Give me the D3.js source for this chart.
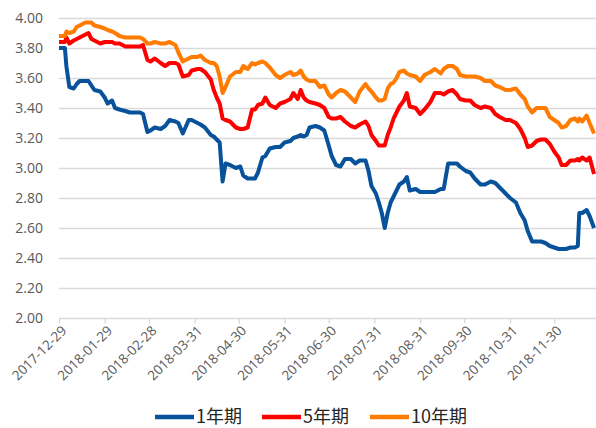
<!DOCTYPE html>
<html>
<head>
<meta charset="utf-8">
<script src="https://cdn.jsdelivr.net/npm/d3@7"></script>
<style>
  body { margin: 0; background: #fff; }
  svg { display: block; }
</style>
</head>
<body>
<script>
// dates (trading samples)
var dates = [
  "2017-12-29","2018-01-02","2018-01-03","2018-01-05","2018-01-08","2018-01-10","2018-01-12","2018-01-16","2018-01-18","2018-01-20",
  "2018-01-22","2018-01-26","2018-01-29","2018-01-31","2018-02-03","2018-02-05","2018-02-08","2018-02-12","2018-02-15","2018-02-19",
  "2018-02-22","2018-02-24","2018-02-27","2018-03-01","2018-03-04","2018-03-08","2018-03-11","2018-03-14","2018-03-18","2018-03-20",
  "2018-03-23","2018-03-27","2018-03-29","2018-04-02","2018-04-04","2018-04-07","2018-04-11","2018-04-13","2018-04-15","2018-04-17",
  "2018-04-19","2018-04-21","2018-04-24","2018-04-28","2018-05-01","2018-05-03","2018-05-06","2018-05-09","2018-05-11","2018-05-13",
  "2018-05-16","2018-05-18","2018-05-21","2018-05-25","2018-05-28","2018-05-31","2018-06-04","2018-06-06","2018-06-09","2018-06-11",
  "2018-06-13","2018-06-15","2018-06-17","2018-06-21","2018-06-24","2018-06-27","2018-06-30","2018-07-02","2018-07-05","2018-07-08",
  "2018-07-11","2018-07-15","2018-07-18","2018-07-21","2018-07-25","2018-07-27","2018-07-29","2018-08-01","2018-08-03","2018-08-05",
  "2018-08-07","2018-08-09","2018-08-11","2018-08-13","2018-08-15","2018-08-17","2018-08-20","2018-08-22","2018-08-24","2018-08-28",
  "2018-08-31","2018-09-03","2018-09-07","2018-09-10","2018-09-14","2018-09-16","2018-09-19","2018-09-22","2018-09-25","2018-09-27",
  "2018-10-01","2018-10-04","2018-10-07","2018-10-11","2018-10-14","2018-10-18","2018-10-21","2018-10-24","2018-10-28","2018-10-31",
  "2018-11-04","2018-11-07","2018-11-10","2018-11-12","2018-11-15","2018-11-18","2018-11-21","2018-11-24","2018-11-27","2018-11-30",
  "2018-12-03","2018-12-05","2018-12-08","2018-12-11","2018-12-14","2018-12-16","2018-12-17","2018-12-19","2018-12-22","2018-12-24",
  "2018-12-27","2018-12-28"
];

var y1 = [
  3.80,3.80,3.68,3.54,3.53,3.56,3.58,3.58,3.58,3.55,
  3.52,3.51,3.47,3.43,3.45,3.40,3.39,3.38,3.37,3.37,
  3.37,3.36,3.24,3.25,3.27,3.26,3.28,3.32,3.31,3.30,
  3.23,3.32,3.32,3.30,3.29,3.27,3.22,3.21,3.19,3.17,
  2.91,3.03,3.02,3.00,3.01,2.95,2.93,2.93,2.93,2.97,
  3.07,3.08,3.13,3.14,3.14,3.17,3.18,3.20,3.21,3.22,
  3.21,3.22,3.27,3.28,3.27,3.25,3.15,3.08,3.02,3.01,
  3.06,3.06,3.03,3.05,3.05,2.98,2.88,2.83,2.77,2.70,
  2.60,2.70,2.77,2.81,2.85,2.89,2.91,2.94,2.85,2.86,
  2.84,2.84,2.84,2.84,2.86,2.86,3.03,3.03,3.03,3.01,
  2.98,2.97,2.93,2.89,2.89,2.91,2.90,2.87,2.83,2.80,
  2.77,2.70,2.65,2.58,2.51,2.51,2.51,2.50,2.48,2.47,
  2.46,2.46,2.46,2.47,2.47,2.48,2.70,2.70,2.72,2.68,
  2.60
];

var y5 = [
  3.84,3.84,3.87,3.83,3.85,3.86,3.87,3.89,3.90,3.86,
  3.85,3.83,3.84,3.84,3.84,3.83,3.83,3.81,3.81,3.81,
  3.81,3.82,3.72,3.71,3.73,3.70,3.68,3.70,3.70,3.69,
  3.61,3.62,3.65,3.66,3.66,3.64,3.59,3.52,3.47,3.43,
  3.33,3.32,3.31,3.27,3.26,3.26,3.27,3.39,3.39,3.42,
  3.43,3.47,3.42,3.40,3.43,3.44,3.46,3.50,3.46,3.52,
  3.47,3.45,3.44,3.43,3.42,3.40,3.34,3.33,3.33,3.34,
  3.31,3.28,3.27,3.29,3.31,3.28,3.22,3.18,3.15,3.15,
  3.15,3.22,3.27,3.33,3.37,3.41,3.45,3.50,3.41,3.40,
  3.36,3.39,3.44,3.50,3.50,3.49,3.51,3.52,3.49,3.46,
  3.45,3.45,3.42,3.40,3.41,3.40,3.36,3.34,3.32,3.32,
  3.30,3.26,3.20,3.14,3.15,3.18,3.19,3.19,3.16,3.11,
  3.07,3.02,3.02,3.05,3.05,3.06,3.05,3.07,3.05,3.07,
  2.96
];

var y10 = [
  3.88,3.88,3.91,3.90,3.91,3.94,3.95,3.97,3.97,3.97,
  3.95,3.94,3.93,3.92,3.91,3.90,3.88,3.87,3.87,3.87,
  3.87,3.86,3.83,3.83,3.84,3.83,3.83,3.84,3.82,3.77,
  3.71,3.73,3.74,3.74,3.75,3.72,3.70,3.70,3.68,3.61,
  3.50,3.54,3.61,3.64,3.64,3.68,3.66,3.70,3.69,3.70,
  3.71,3.70,3.67,3.62,3.60,3.62,3.64,3.62,3.63,3.65,
  3.61,3.59,3.58,3.58,3.54,3.55,3.49,3.47,3.50,3.52,
  3.51,3.47,3.44,3.51,3.56,3.53,3.51,3.47,3.45,3.45,
  3.46,3.53,3.56,3.57,3.60,3.64,3.65,3.63,3.62,3.61,
  3.58,3.62,3.64,3.66,3.63,3.66,3.68,3.68,3.66,3.62,
  3.61,3.61,3.61,3.60,3.58,3.58,3.55,3.54,3.52,3.52,
  3.53,3.49,3.46,3.41,3.37,3.40,3.40,3.40,3.34,3.32,
  3.30,3.27,3.28,3.32,3.33,3.31,3.33,3.31,3.35,3.30,
  3.23
];

var seriesNames = ["1年期", "5年期", "10年期"];
var seriesColors = ["#07529b", "#ff0000", "#ff7c00"];
var yTicks = [2.00, 2.20, 2.40, 2.60, 2.80, 3.00, 3.20, 3.40, 3.60, 3.80, 4.00];
var xTickLabels = ["2017-12-29","2018-01-29","2018-02-28","2018-03-31","2018-04-30","2018-05-31",
                   "2018-06-30","2018-07-31","2018-08-31","2018-09-30","2018-10-31","2018-11-30"];

var width = 596, height = 428;
var marginLeft = 59, marginTop = 18, plotH = 300;
var parse = d3.timeParse("%Y-%m-%d");

var svg = d3.select("body").append("svg")
  .attr("width", width)
  .attr("height", height);

var x = d3.scaleTime()
  .domain([parse("2017-12-29"), parse("2018-12-28")])
  .range([marginLeft, 595.5]);

var y = d3.scaleLinear()
  .domain([2, 4])
  .range([marginTop + plotH, marginTop]);

// grid
svg.append("g").selectAll("line")
  .data(yTicks)
  .enter().append("line")
    .attr("x1", marginLeft)
    .attr("x2", width)
    .attr("y1", function(d) { return Math.round(y(d)) + 0.5; })
    .attr("y2", function(d) { return Math.round(y(d)) + 0.5; })
    .attr("stroke", "#d9d9d9")
    .attr("stroke-width", 1.3);

// y labels
svg.append("g").selectAll("text")
  .data(yTicks)
  .enter().append("text")
    .attr("x", 43)
    .attr("y", function(d) { return y(d); })
    .attr("dy", "0.35em")
    .attr("text-anchor", "end")
    .attr("font-family", "'Open Sans', sans-serif")
    .attr("font-size", 14)
    .attr("fill", "#595959")
    .text(function(d) { return d.toFixed(2); });

// x axis
var xAxis = svg.append("g")
  .attr("transform", "translate(0," + (Math.round(y(2)) + 0.5) + ")")
  .call(d3.axisBottom(x)
    .tickValues(xTickLabels.map(parse))
    .tickSize(5)
    .tickFormat(d3.timeFormat("%Y-%m-%d")));

xAxis.select(".domain").remove();
xAxis.selectAll(".tick line").attr("stroke", "#d9d9d9").attr("stroke-width", 1.3);
xAxis.selectAll(".tick text")
  .attr("font-family", "'Open Sans', sans-serif")
  .attr("font-size", 13.5)
  .attr("fill", "#595959")
  .attr("text-anchor", "end")
  .attr("dy", null)
  .attr("y", null)
  .attr("transform", "translate(8,13) rotate(-45)");

// lines
var data = [y1, y5, y10];
var line = d3.line()
  .x(function(d, i) { return x(parse(dates[i])); })
  .y(function(d) { return y(d); });

data.forEach(function(vals, k) {
  svg.append("path")
    .datum(vals)
    .attr("fill", "none")
    .attr("stroke", seriesColors[k])
    .attr("stroke-width", 4)
    .attr("stroke-linejoin", "round")
    .attr("d", line);
});

// legend
var legendX = [155, 262, 370];
var legend = svg.append("g");
seriesNames.forEach(function(name, k) {
  legend.append("line")
    .attr("x1", legendX[k])
    .attr("x2", legendX[k] + 39)
    .attr("y1", 417)
    .attr("y2", 417)
    .attr("stroke", seriesColors[k])
    .attr("stroke-width", 4.5);
  legend.append("text")
    .attr("x", legendX[k] + 41)
    .attr("y", 417)
    .attr("dy", "0.35em")
    .attr("font-family", "'Noto Sans CJK SC', sans-serif")
    .attr("font-size", 18)
    .attr("fill", "#262626")
    .text(name);
});
</script>
</body>
</html>
